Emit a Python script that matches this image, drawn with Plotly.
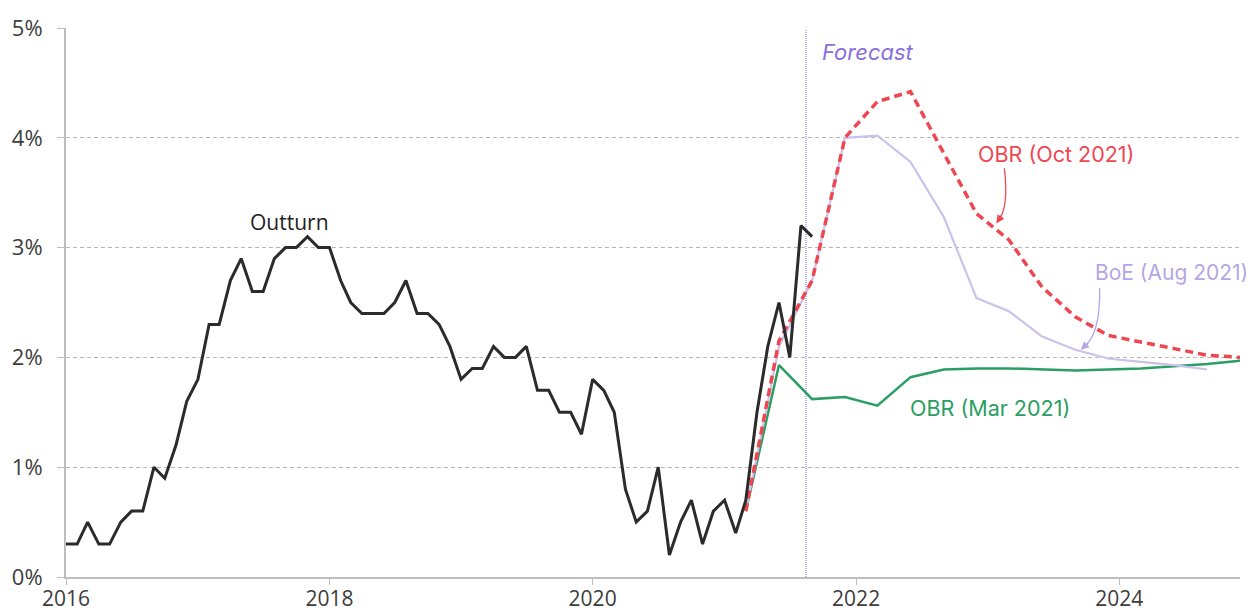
import pandas as pd
import plotly.graph_objects as go

# Monthly CPI inflation outturn, Jan 2016 - Sep 2021 (%)
outturn_values = [
    0.3, 0.3, 0.5, 0.3, 0.3, 0.5, 0.6, 0.6, 1.0, 0.9, 1.2, 1.6,
    1.8, 2.3, 2.3, 2.7, 2.9, 2.6, 2.6, 2.9, 3.0, 3.0, 3.1, 3.0,
    3.0, 2.7, 2.5, 2.4, 2.4, 2.4, 2.5, 2.7, 2.4, 2.4, 2.3, 2.1,
    1.8, 1.9, 1.9, 2.1, 2.0, 2.0, 2.1, 1.7, 1.7, 1.5, 1.5, 1.3,
    1.8, 1.7, 1.5, 0.8, 0.5, 0.6, 1.0, 0.2, 0.5, 0.7, 0.3, 0.6,
    0.7, 0.4, 0.7, 1.5, 2.1, 2.5, 2.0, 3.2, 3.1,
]
outturn_dates = pd.date_range("2016-01-01", periods=len(outturn_values), freq="MS")

# Quarterly forecasts, 2021 Q1 - 2024 Q4 (plotted at the last month of each quarter)
forecast_dates = pd.date_range("2021-03-01", "2024-12-01", freq="3MS")
obr_oct_2021 = [0.6, 2.15, 2.7, 4.0, 4.33, 4.42, 3.86, 3.31,
                3.07, 2.64, 2.37, 2.20, 2.14, 2.08, 2.02, 2.0]
boe_aug_2021 = [0.6, 2.1, 2.7, 4.0, 4.02, 3.78, 3.28, 2.54,
                2.42, 2.19, 2.07, 1.99, 1.96, 1.93, 1.89]
obr_mar_2021 = [0.6, 1.93, 1.62, 1.64, 1.56, 1.82, 1.89, 1.90,
                1.90, 1.89, 1.88, 1.89, 1.90, 1.92, 1.94, 1.97]

forecast_start = "2021-08-15"
year_ticks = ["2016-01-01", "2018-01-01", "2020-01-01", "2022-01-01", "2024-01-01"]
year_labels = ["2016", "2018", "2020", "2022", "2024"]

BLACK = "#2b2b2b"
RED = "#ef4752"
LILAC = "#cbc1eb"
LILAC_TEXT = "#b4a6e6"
GREEN = "#2a9e63"
PURPLE = "#8a6fdc"
AXIS_GREY = "#bdbdbd"
GRID_GREY = "#b8b8b8"
TICK_TEXT = "#3d3d3d"

fig = go.Figure()

fig.add_trace(go.Scatter(
    x=forecast_dates, y=obr_mar_2021, mode="lines",
    line=dict(color=GREEN, width=2.5), name="OBR (Mar 2021)",
))
fig.add_trace(go.Scatter(
    x=forecast_dates[:len(boe_aug_2021)], y=boe_aug_2021, mode="lines",
    line=dict(color=LILAC, width=2.2), name="BoE (Aug 2021)",
))
fig.add_trace(go.Scatter(
    x=forecast_dates, y=obr_oct_2021, mode="lines",
    line=dict(color=RED, width=3.5, dash="8px,5px"), name="OBR (Oct 2021)",
))
fig.add_trace(go.Scatter(
    x=outturn_dates, y=outturn_values, mode="lines",
    line=dict(color=BLACK, width=3), name="Outturn",
))

# Start of the forecast period
fig.add_shape(
    type="line", xref="x", yref="y",
    x0=forecast_start, x1=forecast_start, y0=0, y1=4.98,
    line=dict(color=PURPLE, width=1, dash="1px,1px"), layer="below",
)

# Curved leader lines for the series labels
fig.add_shape(
    type="path", xref="x", yref="y", xsizemode="pixel", ysizemode="pixel",
    xanchor="2023-01-25", yanchor=3.22,
    path="M 8 55 Q 13 14 1 2", line=dict(color=RED, width=1.3),
)
fig.add_shape(
    type="path", xref="x", yref="y", xsizemode="pixel", ysizemode="pixel",
    xanchor="2023-09-16", yanchor=2.07,
    path="M 19 62 Q 20 14 2 2", line=dict(color=LILAC_TEXT, width=1.3),
)

font_main = "Open Sans, Arial, sans-serif"
font_label = "Inter, Open Sans, sans-serif"

annotations = [
    dict(x="2017-09-11", y=3.23, text="Outturn", showarrow=False,
         font=dict(family=font_main, size=21, color="#222222")),
    dict(x="2021-09-23", y=4.78, text="<i>Forecast</i>", showarrow=False, xanchor="left",
         font=dict(family=font_label, size=22, color=PURPLE)),
    dict(x="2023-07-10", y=3.85, text="OBR (Oct 2021)", showarrow=False,
         font=dict(family=font_label, size=21.5, color=RED)),
    dict(x="2024-05-26", y=2.77, text="BoE (Aug 2021)", showarrow=False,
         font=dict(family=font_label, size=21, color=LILAC_TEXT)),
    dict(x="2023-01-08", y=1.54, text="OBR (Mar 2021)", showarrow=False,
         font=dict(family=font_label, size=21.5, color=GREEN)),
    # arrowheads at the ends of the leader lines
    dict(x="2023-01-25", y=3.22, text="", showarrow=True, arrowhead=2,
         arrowsize=1.1, arrowwidth=1.5, arrowcolor=RED, ax=6, ay=-9, standoff=0),
    dict(x="2023-09-16", y=2.07, text="", showarrow=True, arrowhead=2,
         arrowsize=1.1, arrowwidth=1.5, arrowcolor=LILAC_TEXT, ax=9, ay=-8, standoff=0),
]

fig.update_layout(
    width=1253, height=613,
    margin=dict(l=66, r=13, t=28, b=36),
    paper_bgcolor="white", plot_bgcolor="white",
    showlegend=False,
    annotations=annotations,
    font=dict(family=font_main, size=22, color=TICK_TEXT),
)

fig.update_xaxes(
    type="date",
    range=["2016-01-01", "2024-12-01"],
    tickvals=year_ticks, ticktext=year_labels,
    showgrid=False, zeroline=False, automargin=False,
    showline=True, linecolor=AXIS_GREY, linewidth=2,
    ticks="outside", ticklen=6, tickcolor=AXIS_GREY, tickwidth=1,
    ticklabelstandoff=-4,
    tickfont=dict(family=font_main, size=21, color=TICK_TEXT),
)
fig.update_yaxes(
    range=[0, 5], dtick=1, tick0=0, ticksuffix="%",
    showgrid=True, gridcolor=GRID_GREY, gridwidth=1, griddash="4px,3px",
    zeroline=False, automargin=False,
    showline=True, linecolor=AXIS_GREY, linewidth=2,
    ticks="outside", ticklen=7, tickcolor=AXIS_GREY, tickwidth=1,
    ticklabelstandoff=10,
    tickfont=dict(family=font_main, size=22, color=TICK_TEXT),
)

fig.write_html("out.html")
